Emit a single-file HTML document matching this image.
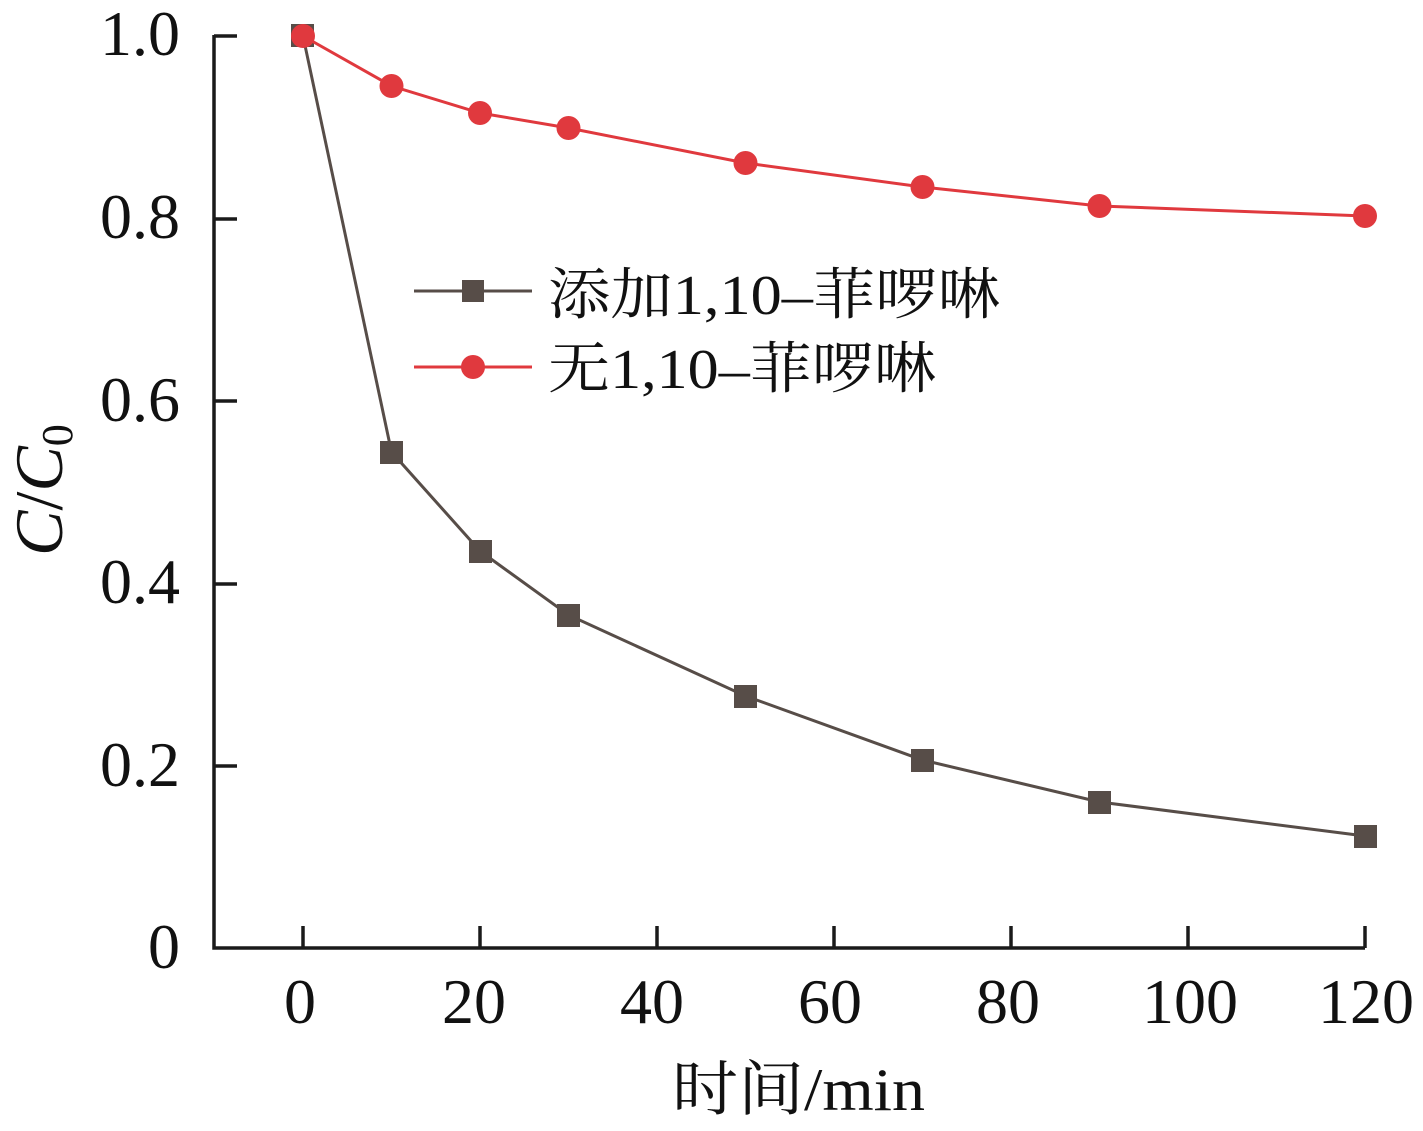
<!DOCTYPE html>
<html><head><meta charset="utf-8"><style>html,body{margin:0;padding:0;background:#fff}svg{display:block}</style></head>
<body>
<svg width="1423" height="1131" viewBox="0 0 1423 1131" xmlns="http://www.w3.org/2000/svg">
<g stroke="#1a1a1a" stroke-width="3.5" fill="none">
<polyline points="214,35 214,948 1365,948"/>
<line x1="214" y1="36" x2="237" y2="36"/><line x1="214" y1="219" x2="237" y2="219"/><line x1="214" y1="401" x2="237" y2="401"/><line x1="214" y1="584" x2="237" y2="584"/><line x1="214" y1="766" x2="237" y2="766"/>
<line x1="303" y1="948" x2="303" y2="926"/><line x1="480" y1="948" x2="480" y2="926"/><line x1="657" y1="948" x2="657" y2="926"/><line x1="834" y1="948" x2="834" y2="926"/><line x1="1011" y1="948" x2="1011" y2="926"/><line x1="1188" y1="948" x2="1188" y2="926"/><line x1="1365" y1="948" x2="1365" y2="926"/>
</g>
<g font-family="'Liberation Serif', serif" font-size="64" fill="#111" text-anchor="end">
<text x="180" y="55">1.0</text><text x="180" y="238">0.8</text><text x="180" y="421">0.6</text><text x="180" y="603">0.4</text><text x="180" y="786">0.2</text><text x="180" y="968">0</text>
</g>
<g font-family="'Liberation Serif', serif" font-size="64" fill="#111" text-anchor="middle">
<text x="300" y="1023">0</text><text x="474" y="1023">20</text><text x="652" y="1023">40</text><text x="830" y="1023">60</text><text x="1008" y="1023">80</text><text x="1190" y="1023">100</text><text x="1366" y="1023">120</text>
</g>
<text x="672" y="1110" font-family="'Liberation Serif', 'Noto Serif CJK SC', serif" font-size="60" fill="#111" textLength="253" lengthAdjust="spacingAndGlyphs">时间/min</text>
<text transform="translate(62,490) rotate(-90)" text-anchor="middle" font-family="'Liberation Serif', serif" font-size="68" fill="#111"><tspan font-style="italic">C</tspan>/<tspan font-style="italic">C</tspan><tspan font-size="44" dy="10">0</tspan></text>
<polyline fill="none" stroke="#574d48" stroke-width="3" points="303,36 391.5,452 480,551 568.5,615 745.5,696 922.5,760 1099.5,802 1365,836"/>
<g fill="#574d48">
<rect x="291" y="24" width="23" height="23"/><rect x="380" y="441" width="23" height="23"/><rect x="469" y="540" width="23" height="23"/><rect x="557" y="604" width="23" height="23"/><rect x="734" y="685" width="23" height="23"/><rect x="911" y="749" width="23" height="23"/><rect x="1088" y="791" width="23" height="23"/><rect x="1354" y="825" width="23" height="23"/>
</g>
<polyline fill="none" stroke="#e0393e" stroke-width="3" points="303,36 391.5,86 480,113 568.5,128 745.5,163 922.5,187 1099.5,206 1365,216"/>
<g fill="#e0393e">
<circle cx="303" cy="36" r="12"/><circle cx="391.5" cy="86" r="12"/><circle cx="480" cy="113" r="12"/><circle cx="568.5" cy="128" r="12"/><circle cx="745.5" cy="163" r="12"/><circle cx="922.5" cy="187" r="12"/><circle cx="1099.5" cy="206" r="12"/><circle cx="1365" cy="216" r="12"/>
</g>
<line x1="414" y1="291" x2="532" y2="291" stroke="#574d48" stroke-width="3"/>
<rect x="462" y="280" width="22" height="22" fill="#574d48"/>
<line x1="414" y1="367" x2="532" y2="367" stroke="#e0393e" stroke-width="3"/>
<circle cx="473" cy="367" r="12" fill="#e0393e"/>
<g font-family="'Liberation Serif', 'Noto Serif CJK SC', serif" font-size="56" fill="#111">
<text x="548" y="314" textLength="452" lengthAdjust="spacingAndGlyphs">添加1,10–菲啰啉</text>
<text x="548" y="388" textLength="388" lengthAdjust="spacingAndGlyphs">无1,10–菲啰啉</text>
</g>
</svg>
</body></html>
